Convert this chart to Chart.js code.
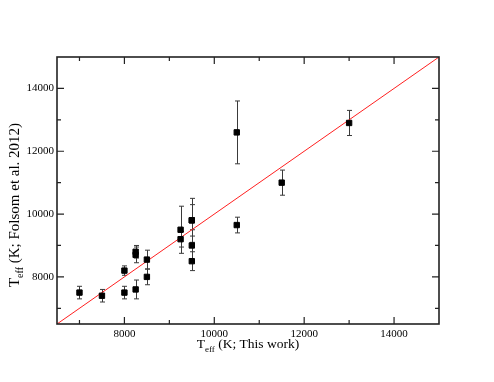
<!DOCTYPE html>
<html lang="en">
<head>
    <meta charset="UTF-8">
    <title>Teff comparison</title>
    <style>
        body {
            margin: 0;
            background: #fff;
        }
        #box {
            width: 494px;
            height: 382px;
        }
    </style>
</head>
<body>
    <div id="box"><canvas id="teffChart" width="494" height="382"></canvas></div>

    <script src="https://cdn.jsdelivr.net/npm/chart.js"></script>
    <script>
        // values
        const teffThisWork = [7000, 7500, 8000, 8000, 8250, 8250, 8250, 8500, 8500, 9250, 9250, 9500, 9500, 9500, 9500, 10500, 10500, 11500, 13000];
        const teffFolsom   = [7500, 7400, 8200, 7500, 7600, 8800, 8700, 8550, 8000, 9500, 9200, 9800, 9800, 9000, 8500, 12600, 9650, 11000, 12900];
        const teffFolsomErr = [200, 200, 150, 200, 300, 200, 250, 300, 250, 750, 250, 700, 500, 500, 300, 1000, 250, 400, 400];

        const oneToOne = [6500, 15000];   // y = x line
        const axisMin = 6500;
        const axisMax = 15000;
        const labelTicks = [8000, 10000, 12000, 14000];
        const minorTicks = [7000, 9000, 11000, 13000, 15000];

        const serif = '"Liberation Serif", "DejaVu Serif", serif';

        const points = teffThisWork.map((x, i) => ({ x: x, y: teffFolsom[i], err: teffFolsomErr[i] }));
        const lineData = oneToOne.map(v => ({ x: v, y: v }));

        // error bars under the squares
        const errorBars = {
            id: 'errorBars',
            beforeDatasetsDraw(chart) {
                const ctx = chart.ctx;
                const xs = chart.scales.x, ys = chart.scales.y;
                ctx.save();
                ctx.strokeStyle = '#3a3a3a';
                ctx.lineWidth = 1;
                points.forEach(p => {
                    const px = Math.round(xs.getPixelForValue(p.x)) + 0.5;
                    const top = ys.getPixelForValue(p.y + p.err);
                    const bot = ys.getPixelForValue(p.y - p.err);
                    ctx.beginPath();
                    ctx.moveTo(px, top);
                    ctx.lineTo(px, bot);
                    ctx.moveTo(px - 2.5, top);
                    ctx.lineTo(px + 2.5, top);
                    ctx.moveTo(px - 2.5, bot);
                    ctx.lineTo(px + 2.5, bot);
                    ctx.stroke();
                });
                ctx.restore();
            }
        };

        function drawTeff(ctx, rest, size, align) {
            // T with subscript eff, then the rest
            const big = size + 'px ' + serif;
            const small = Math.round(size * 0.68) + 'px ' + serif;
            ctx.font = big;
            const wT = ctx.measureText('T').width;
            const wRest = ctx.measureText(' ' + rest).width;
            ctx.font = small;
            const wSub = ctx.measureText('eff').width;
            const total = wT + wSub + wRest;
            let x = align === 'center' ? -total / 2 : 0;
            ctx.textAlign = 'left';
            ctx.textBaseline = 'alphabetic';
            ctx.font = big;
            ctx.fillText('T', x, 0);
            x += wT;
            ctx.font = small;
            ctx.fillText('eff', x, size * 0.3);
            x += wSub;
            ctx.font = big;
            ctx.fillText(' ' + rest, x, 0);
        }

        // frame, inward ticks on four sides, axis titles
        const frame = {
            id: 'frame',
            afterDraw(chart) {
                const ctx = chart.ctx;
                const a = chart.chartArea;
                const xs = chart.scales.x, ys = chart.scales.y;
                ctx.save();
                ctx.strokeStyle = '#222';
                ctx.lineWidth = 1.6;
                ctx.strokeRect(a.left, a.top, a.right - a.left, a.bottom - a.top);

                ctx.lineWidth = 1.2;
                ctx.beginPath();
                const tick = (v, len) => {
                    const px = xs.getPixelForValue(v);
                    const py = ys.getPixelForValue(v);
                    if (px > a.left + 1 && px < a.right - 1) {
                        ctx.moveTo(px, a.bottom); ctx.lineTo(px, a.bottom - len);
                        ctx.moveTo(px, a.top); ctx.lineTo(px, a.top + len);
                    }
                    if (py > a.top + 1 && py < a.bottom - 1) {
                        ctx.moveTo(a.left, py); ctx.lineTo(a.left + len, py);
                        ctx.moveTo(a.right, py); ctx.lineTo(a.right - len, py);
                    }
                };
                labelTicks.forEach(v => tick(v, 7));
                minorTicks.forEach(v => tick(v, 4));
                ctx.stroke();

                ctx.fillStyle = '#000';
                ctx.save();
                ctx.translate((a.left + a.right) / 2, 348);
                drawTeff(ctx, '(K; This work)', 13.5, 'center');
                ctx.restore();

                ctx.save();
                ctx.translate(18.5, 205);
                ctx.rotate(-Math.PI / 2);
                drawTeff(ctx, '(K; Folsom et al. 2012)', 15, 'center');
                ctx.restore();
                ctx.restore();
            }
        };

        const tickFont = { family: serif, size: 11 };

        new Chart(document.getElementById('teffChart'), {
            type: 'scatter',
            data: {
                datasets: [{
                    type: 'line',
                    data: lineData,
                    borderColor: '#ff2020',
                    borderWidth: 1,
                    pointRadius: 0,
                    order: 2
                }, {
                    data: points,
                    pointStyle: 'rect',
                    pointRadius: 3.8,
                    backgroundColor: '#000',
                    borderColor: '#000',
                    borderWidth: 1,
                    order: 1
                }]
            },
            options: {
                responsive: false,
                animation: false,
                layout: { padding: { top: 57, right: 55, left: 0, bottom: 0 } },
                plugins: {
                    legend: { display: false },
                    tooltip: { enabled: false }
                },
                scales: {
                    x: {
                        type: 'linear',
                        min: axisMin,
                        max: axisMax,
                        grid: { display: false, drawTicks: false, tickLength: 0 },
                        border: { display: false },
                        ticks: { font: tickFont, color: '#000', padding: 4, maxRotation: 0, callback: v => String(v) },
                        afterBuildTicks: s => { s.ticks = labelTicks.map(v => ({ value: v })); },
                        afterFit: s => { s.height = 58; }
                    },
                    y: {
                        type: 'linear',
                        min: axisMin,
                        max: axisMax,
                        grid: { display: false, drawTicks: false, tickLength: 0 },
                        border: { display: false },
                        ticks: { font: tickFont, color: '#000', padding: 3, callback: v => String(v) },
                        afterBuildTicks: s => { s.ticks = labelTicks.map(v => ({ value: v })); },
                        afterFit: s => { s.width = 57; }
                    }
                }
            },
            plugins: [errorBars, frame]
        });
    </script>
</body>
</html>
